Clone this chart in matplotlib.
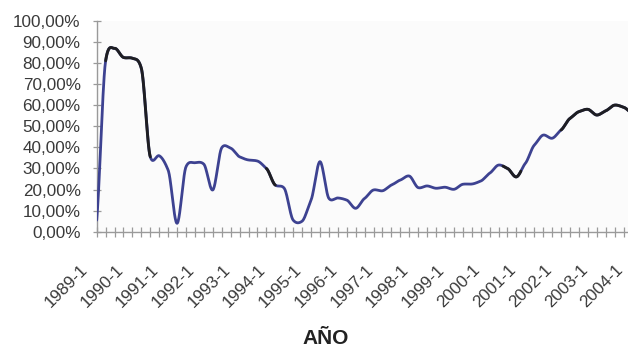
import numpy as np
import matplotlib
matplotlib.use("Agg")
import matplotlib.pyplot as plt
import matplotlib.transforms as mtransforms
from matplotlib.ticker import FuncFormatter, MultipleLocator, FixedLocator

# Quarterly series, 1989-1 .. 2004-1 (values in percent)
years = list(range(1989, 2005))
year_labels = [f"{y}-1" for y in years]
rates = [
    5.5, 81.0, 86.9, 82.6, 82.2, 77.4, 35.5, 36.0,      # 1989-1 .. 1990-4
    29.2, 4.0, 30.8, 32.7, 32.0, 19.8, 39.8, 39.6,      # 1991-1 .. 1992-4
    35.5, 34.0, 33.5, 30.0, 22.1, 20.6, 5.5, 5.0,       # 1993-1 .. 1994-4
    15.0, 33.2, 15.8, 16.0, 15.0, 11.1, 15.8, 19.8,     # 1995-1 .. 1996-4
    19.4, 22.1, 24.5, 26.4, 20.9, 21.7, 20.6, 21.1,     # 1997-1 .. 1998-4
    20.1, 22.5, 22.6, 24.0, 27.7, 31.6, 30.0, 26.0,     # 1999-1 .. 2000-4
    32.4, 41.0, 45.8, 44.3, 48.2, 53.7, 56.9, 58.0,     # 2001-1 .. 2002-4
    55.3, 57.3, 60.0, 59.0, 56.0,                       # 2003-1 .. 2004-1
]
# stretches where the trace is printed darker
dark_spans = [(1, 6), (19, 20), (45.5, 47.5), (52, 60)]

plt.rcParams['font.family'] = ['Liberation Sans', 'DejaVu Sans']

y = np.asarray(rates) / 100.0
x = np.arange(len(y), dtype=float)


def smooth(xs, ys, tension=0.65, n=24):
    """Cardinal spline through the points (smoothed line)."""
    m = np.zeros_like(ys)
    m[1:-1] = tension * (ys[2:] - ys[:-2]) / 2.0
    m[0] = tension * (ys[1] - ys[0])
    m[-1] = tension * (ys[-1] - ys[-2])
    out_x, out_y = [], []
    t = np.linspace(0, 1, n, endpoint=False)
    h00 = 2 * t ** 3 - 3 * t ** 2 + 1
    h10 = t ** 3 - 2 * t ** 2 + t
    h01 = -2 * t ** 3 + 3 * t ** 2
    h11 = t ** 3 - t ** 2
    for k in range(len(ys) - 1):
        out_x.append(xs[k] + t * (xs[k + 1] - xs[k]))
        out_y.append(h00 * ys[k] + h10 * m[k] + h01 * ys[k + 1] + h11 * m[k + 1])
    out_x.append([xs[-1]])
    out_y.append([ys[-1]])
    return np.concatenate(out_x), np.concatenate(out_y)


sx, sy = smooth(x, y)

fig = plt.figure(figsize=(6.28, 3.49), dpi=100)
step = 8.93 / 628.0
x_max = 60.5
ax = fig.add_axes([96.7 / 628.0, 0.336, x_max * step, 0.6047])
ax.set_facecolor('#fbfbfb')

ax.plot(sx, sy, color='#3d4291', lw=2.0, solid_capstyle='round', zorder=3)
for a, b in dark_spans:
    sel = (sx >= a) & (sx <= b)
    ax.plot(sx[sel], sy[sel], color='#1e1e22', lw=2.1, solid_capstyle='round', zorder=4)

ax.set_xlim(0, x_max)
ax.set_ylim(0, 1.0)

for side in ('top', 'right'):
    ax.spines[side].set_visible(False)
for side in ('left', 'bottom'):
    ax.spines[side].set_color('#9a9a9a')
    ax.spines[side].set_linewidth(1.0)

ax.yaxis.set_major_locator(MultipleLocator(0.1))
ax.yaxis.set_major_formatter(FuncFormatter(lambda v, p: f"{v * 100:.2f}%".replace('.', ',')))
ax.tick_params(axis='y', direction='inout', length=6, width=0.9, color='#9a9a9a',
               labelsize=12.3, labelcolor='#3a3a3a', pad=8.5)

ax.xaxis.set_major_locator(FixedLocator(np.arange(0, len(y), 4)))
ax.xaxis.set_minor_locator(FixedLocator(np.arange(0, len(y))))
ax.set_xticklabels(year_labels)
ax.tick_params(axis='x', which='both', direction='inout', length=7, width=0.9,
               color='#9a9a9a', labelsize=12.3, labelcolor='#3a3a3a', pad=0)

shift = mtransforms.ScaledTranslation(-17 / 100.0, -25 / 100.0, fig.dpi_scale_trans)
for lbl in ax.get_xticklabels():
    lbl.set_rotation(45)
    lbl.set_ha('right')
    lbl.set_va('top')
    lbl.set_rotation_mode('anchor')
    lbl.set_transform(lbl.get_transform() + shift)

fig.text(326 / 628.0, 1 - 338 / 349.0, 'AÑO', ha='center', va='center',
         fontsize=15, fontweight='bold', color='#222222')

fig.savefig('out.png', dpi=100, facecolor='white')
